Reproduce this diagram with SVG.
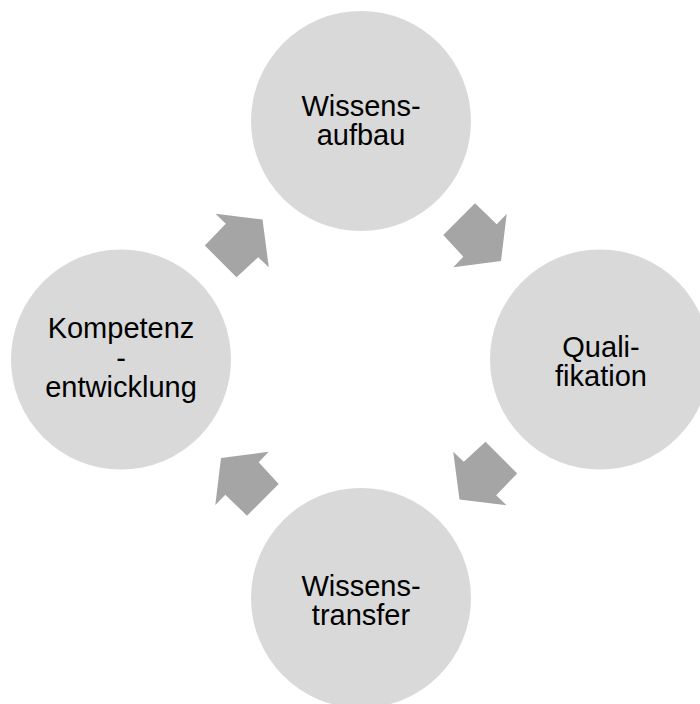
<svg xmlns="http://www.w3.org/2000/svg" width="700" height="704" viewBox="0 0 700 704">
<style>
.node{fill:#d9d9d9}
.arr{fill:#a5a5a5}
.lbl{font-family:"Liberation Sans",Arial,sans-serif;font-size:29px;fill:#000;text-anchor:middle}
</style>
<defs>
<polygon id="arrow" points="475,203.3 496.7,224.3 506.7,214 501,261 453.3,267.3 463.3,256.7 443.3,235"/>
</defs>
<rect width="700" height="704" fill="#fff"/>
<g id="connectors">
<use href="#arrow" class="arr"/>
<use href="#arrow" class="arr" transform="rotate(90 361 359.5)"/>
<use href="#arrow" class="arr" transform="rotate(180 361 359.5)"/>
<use href="#arrow" class="arr" transform="rotate(270 361 359.5)"/>
</g>
<g id="wissensaufbau">
<circle class="node" cx="361" cy="121" r="110"/>
<text class="lbl" x="361" y="115.5">Wissens-</text>
<text class="lbl" x="361" y="145">aufbau</text>
</g>
<g id="qualifikation">
<circle class="node" cx="600" cy="359.5" r="110"/>
<text class="lbl" x="601" y="356.5">Quali-</text>
<text class="lbl" x="601" y="386">fikation</text>
</g>
<g id="wissenstransfer">
<circle class="node" cx="361" cy="598" r="110"/>
<text class="lbl" x="361" y="595.5">Wissens-</text>
<text class="lbl" x="361" y="625">transfer</text>
</g>
<g id="kompetenzentwicklung">
<circle class="node" cx="121" cy="359.5" r="110"/>
<text class="lbl" x="121" y="338.3">Kompetenz</text>
<text class="lbl" x="121" y="367.6">-</text>
<text class="lbl" x="121" y="397">entwicklung</text>
</g>
</svg>
